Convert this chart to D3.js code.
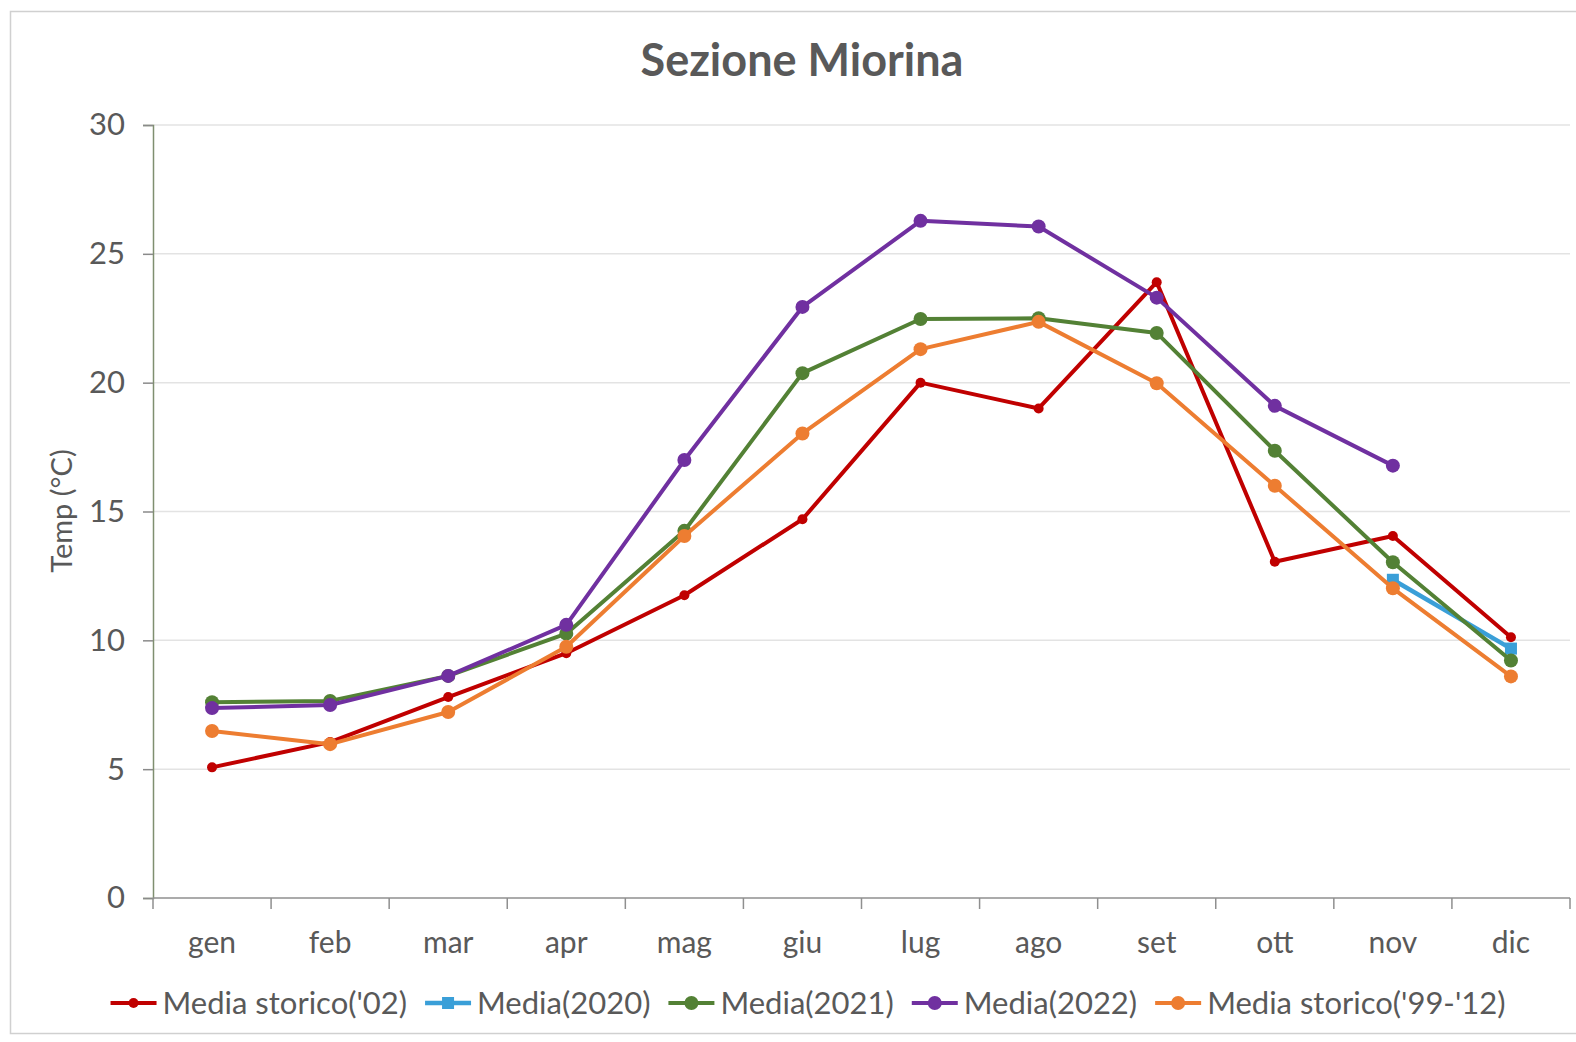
<!DOCTYPE html>
<html lang="it">
<head>
    <meta charset="UTF-8">
    <script src="https://cdn.jsdelivr.net/npm/d3@7"></script>
    <style>
        * { margin: 0; padding: 0; }
        body { background: #fff; font-family: Lato, "Open Sans", sans-serif; }
        svg { display: block; }
        .tick text { fill: #595959; }
    </style>
    <title>Sezione Miorina</title>
</head>
<body>
<div id="chart"></div>
<script>
    // dati
    var mesi = ["gen", "feb", "mar", "apr", "mag", "giu", "lug", "ago", "set", "ott", "nov", "dic"];
    var yTicks = [0, 5, 10, 15, 20, 25, 30];

    var storico02 = [5.07, 6.05, 7.8, 9.5, 11.75, 14.7, 20.0, 19.0, 23.9, 13.05, 14.05, 10.12];
    var media2020 = [null, null, null, null, null, null, null, null, null, null, 12.35, 9.68];
    var media2021 = [7.6, 7.65, 8.62, 10.26, 14.25, 20.37, 22.47, 22.5, 21.93, 17.36, 13.03, 9.22];
    var media2022 = [7.37, 7.49, 8.62, 10.6, 17.0, 22.94, 26.28, 26.06, 23.3, 19.1, 16.78, null];
    var storico9912 = [6.48, 5.97, 7.22, 9.75, 14.05, 18.03, 21.3, 22.36, 19.98, 16.0, 12.02, 8.6];

    var nomi = ["Media storico('02)", "Media(2020)", "Media(2021)", "Media(2022)", "Media storico('99-'12)"];
    var colori = ["#c00000", "#3a9fd8", "#538135", "#7030a0", "#ed7d31"];

    var series = [
        { nome: nomi[0], colore: colori[0], valori: storico02, marker: "circle", r: 5, lw: 4 },
        { nome: nomi[1], colore: colori[1], valori: media2020, marker: "square", r: 6, lw: 4.5 },
        { nome: nomi[2], colore: colori[2], valori: media2021, marker: "circle", r: 7, lw: 4 },
        { nome: nomi[3], colore: colori[3], valori: media2022, marker: "circle", r: 7, lw: 4 },
        { nome: nomi[4], colore: colori[4], valori: storico9912, marker: "circle", r: 7, lw: 4 }
    ];

    var w = 1576, h = 1042;
    var pLeft = 153, pRight = 1570, pTop = 125, pBottom = 898;

    var svg = d3.select("#chart").append("svg")
        .attr("width", w)
        .attr("height", h);

    // cornice
    svg.append("rect")
        .attr("x", 10.5).attr("y", 11.5)
        .attr("width", 1600).attr("height", 1022)
        .attr("fill", "#fff")
        .attr("stroke", "#d0d0d0")
        .attr("stroke-width", 1.5);

    var xScale = d3.scaleBand().domain(mesi).range([pLeft, pRight]);
    var yScale = d3.scaleLinear().domain([0, 30]).range([pBottom, pTop]);

    // griglia
    svg.append("g")
        .selectAll("line")
        .data(yTicks.slice(1))
        .enter()
        .append("line")
        .attr("x1", pLeft).attr("x2", pRight)
        .attr("y1", function(d) { return yScale(d); })
        .attr("y2", function(d) { return yScale(d); })
        .attr("stroke", "#e3e3e3")
        .attr("stroke-width", 1.5);

    // asse y
    var yAxis = d3.axisLeft(yScale).tickValues(yTicks).tickSize(10).tickPadding(18);
    var gy = svg.append("g")
        .attr("transform", "translate(" + pLeft + ",0)")
        .call(yAxis)
        .attr("font-size", "31px")
        .attr("font-family", "Lato, sans-serif");
    gy.select(".domain").attr("stroke", "#7f8f70").attr("stroke-width", 1.5);
    gy.selectAll(".tick line").attr("stroke", "#8a8a8a").attr("stroke-width", 1.5);

    // asse x: tacche tra le categorie
    var xAxis = d3.axisBottom(xScale).tickSize(0).tickPadding(34);
    var gx = svg.append("g")
        .attr("transform", "translate(0," + pBottom + ")")
        .call(xAxis)
        .attr("font-size", "30px")
        .attr("font-family", "Lato, sans-serif");
    gx.select(".domain").remove();
    gx.append("line")
        .attr("x1", pLeft).attr("x2", pRight)
        .attr("stroke", "#8f8f8f").attr("stroke-width", 1.5);
    gx.selectAll(".sep")
        .data(d3.range(mesi.length + 1))
        .enter()
        .append("line")
        .attr("class", "sep")
        .attr("x1", function(i) { return pLeft + i * xScale.bandwidth(); })
        .attr("x2", function(i) { return pLeft + i * xScale.bandwidth(); })
        .attr("y1", 0).attr("y2", 11)
        .attr("stroke", "#8f8f8f").attr("stroke-width", 1.5);

    // linee
    var line = d3.line()
        .defined(function(d) { return d.v != null; })
        .x(function(d) { return xScale(d.m) + xScale.bandwidth() / 2; })
        .y(function(d) { return yScale(d.v); });

    series.forEach(function(s) {
        var punti = mesi.map(function(m, i) { return { m: m, v: s.valori[i] }; });
        var g = svg.append("g");
        g.append("path")
            .datum(punti)
            .attr("d", line)
            .attr("fill", "none")
            .attr("stroke", s.colore)
            .attr("stroke-width", s.lw)
            .attr("stroke-linejoin", "round");
        var validi = punti.filter(function(d) { return d.v != null; });
        if (s.marker == "square") {
            g.selectAll("rect").data(validi).enter().append("rect")
                .attr("x", function(d) { return xScale(d.m) + xScale.bandwidth() / 2 - s.r; })
                .attr("y", function(d) { return yScale(d.v) - s.r; })
                .attr("width", s.r * 2).attr("height", s.r * 2)
                .attr("fill", s.colore);
        } else {
            g.selectAll("circle").data(validi).enter().append("circle")
                .attr("cx", function(d) { return xScale(d.m) + xScale.bandwidth() / 2; })
                .attr("cy", function(d) { return yScale(d.v); })
                .attr("r", s.r)
                .attr("fill", s.colore);
        }
    });

    // titolo
    svg.append("text")
        .attr("x", 802).attr("y", 76)
        .attr("text-anchor", "middle")
        .attr("font-size", "45px")
        .attr("font-weight", "bold")
        .attr("fill", "#595959")
        .text("Sezione Miorina");

    // etichetta asse y
    svg.append("text")
        .attr("transform", "translate(72,511) rotate(-90)")
        .attr("text-anchor", "middle")
        .attr("font-size", "29px")
        .attr("fill", "#595959")
        .text("Temp (°C)");

    // legenda
    var legenda = svg.append("g");
    var lx = 0;
    series.forEach(function(s) {
        var item = legenda.append("g").attr("transform", "translate(" + lx + ",0)");
        item.append("line")
            .attr("x1", 0).attr("x2", 46)
            .attr("stroke", s.colore).attr("stroke-width", s.lw);
        if (s.marker == "square") {
            item.append("rect").attr("x", 23 - s.r).attr("y", -s.r)
                .attr("width", s.r * 2).attr("height", s.r * 2).attr("fill", s.colore);
        } else {
            item.append("circle").attr("cx", 23).attr("r", s.r).attr("fill", s.colore);
        }
        var t = item.append("text")
            .attr("x", 52).attr("dy", "0.35em")
            .attr("font-size", "31px")
            .attr("fill", "#595959")
            .text(s.nome);
        lx += 52 + t.node().getComputedTextLength() + 18;
    });
    lx -= 18;
    legenda.attr("transform", "translate(" + (808 - lx / 2) + ",1003)");
</script>
</body>
</html>
